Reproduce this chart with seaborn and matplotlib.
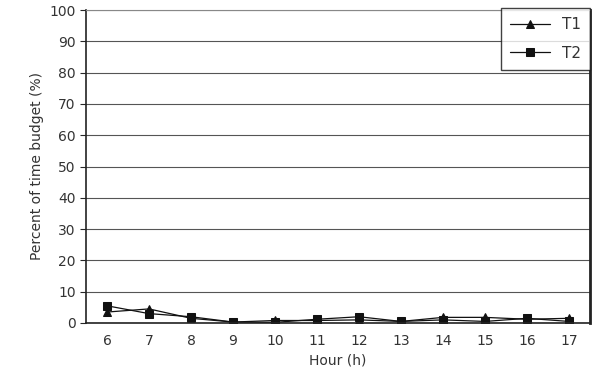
import seaborn as sns
import pandas as pd
import matplotlib.pyplot as plt
from matplotlib.ticker import MultipleLocator

hours = [6, 7, 8, 9, 10, 11, 12, 13, 14, 15, 16, 17]
t1 = [3.5, 4.5, 1.5, 0.3, 0.8, 0.8, 1.0, 0.5, 1.8, 1.8, 1.2, 1.5]
t2 = [5.5, 3.0, 2.0, 0.3, 0.2, 1.2, 2.0, 0.5, 1.0, 0.5, 1.5, 0.5]


def main():
    sns.set_style("white")
    plt.rcParams['font.family'] = ['DejaVu Sans']
    data = pd.DataFrame({
        "hour": hours * 2,
        "pct": t1 + t2,
        "series": ["T1"] * len(hours) + ["T2"] * len(hours),
    })

    fig = plt.figure(figsize=(5.99, 3.90), dpi=100)
    ax = fig.add_axes([86 / 599, 1 - 323 / 390, (590 - 86) / 599, (323 - 10) / 390])
    ax.yaxis.grid(True, color="#555555", linewidth=0.8)
    ax.set_axisbelow(True)

    sns.lineplot(data=data, x="hour", y="pct", hue="series", style="series",
                 markers={"T1": "^", "T2": "s"}, dashes=False,
                 palette={"T1": "#111111", "T2": "#111111"},
                 linewidth=0.9, markersize=6, mec="#111111", ax=ax)

    ax.set_xlim(5.5, 17.5)
    ax.set_ylim(0, 100)
    ax.yaxis.set_major_locator(MultipleLocator(10))
    ax.set_xticks(hours)
    ax.set_xticks([h + 0.5 for h in hours[:-1]], minor=True)
    ax.tick_params(axis="x", which="major", length=0, pad=8, labelsize=10, labelcolor="#333333")
    ax.tick_params(axis="x", which="minor", direction="in", length=4, color="#333333")
    ax.tick_params(axis="y", length=4, direction="out", left=True, labelsize=10, labelcolor="#333333")
    for s in ax.spines.values():
        s.set_color("#222222")
        s.set_linewidth(1.2)
    ax.spines["top"].set_color("#888888")
    ax.spines["top"].set_linewidth(0.8)
    ax.spines["right"].set_linewidth(2)

    ax.set_xlabel("Hour (h)", fontsize=10, color="#333333")
    ax.set_ylabel("Percent of time budget (%)", fontsize=10, color="#333333")

    leg = ax.legend(loc="upper right", bbox_to_anchor=(1.0, 1.007), borderaxespad=0,
                    frameon=True, fancybox=False, edgecolor="#111111", fontsize=11,
                    handlelength=2.6, borderpad=0.6, labelspacing=0.9)
    leg.get_frame().set_linewidth(1.0)
    for h in leg.legend_handles:
        h.set_markeredgecolor("#111111")
    for t in leg.get_texts():
        t.set_color("#333333")

    plt.savefig("out.png", dpi=100)


if __name__ == "__main__":
    main()
